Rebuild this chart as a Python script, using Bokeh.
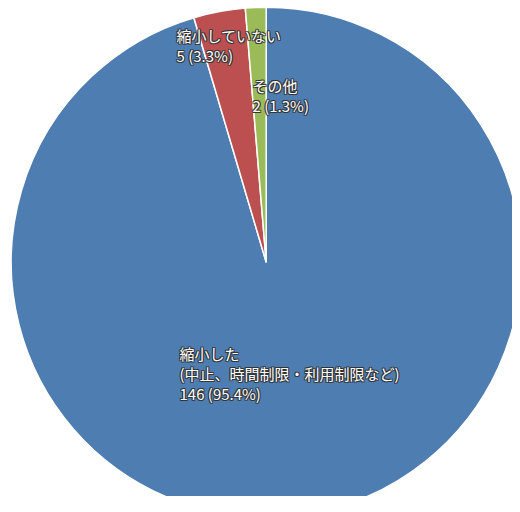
import math
from bokeh.plotting import figure
from bokeh.models import ColumnDataSource, Range1d
from bokeh.core.properties import value
from bokeh.embed import file_html
from bokeh.resources import INLINE

# ---- data ----
categories = ["縮小した\n(中止、時間制限・利用制限など)", "縮小していない", "その他"]
counts = [146, 5, 2]
colors = ["#4E7DB2", "#BC5050", "#9BBB59"]

# ---- layout ----
W, H = 512, 496
cx, cy, R = 265.7, H - 261.7, 255
label_anchor = [(179, H - 342), (176, H - 24), (252, H - 74)]  # top-left of each label
LINE = 20
FONT = "Noto Sans CJK JP"

total = sum(counts)
starts, ends = [], []
a = math.pi / 2
for c in counts:
    starts.append(a)
    a -= c / total * 2 * math.pi
    ends.append(a)

src = ColumnDataSource(dict(start=starts, end=ends, color=colors))

p = figure(width=W, height=H, output_backend="svg", toolbar_location=None,
           x_range=Range1d(0, W), y_range=Range1d(0, H), min_border=0)
p.axis.visible = False
p.grid.visible = False
p.outline_line_color = None
p.background_fill_color = "white"

p.wedge(x=cx, y=cy, radius=R, start_angle="start", end_angle="end", direction="clock",
        fill_color="color", line_color="white", line_width=1.5, source=src)

xs, ys, txt = [], [], []
for cat, cnt, (lx, ly) in zip(categories, counts, label_anchor):
    lines = cat.split("\n") + [f"{cnt} ({cnt / total * 100:.1f}%)"]
    for i, ln in enumerate(lines):
        xs.append(lx)
        ys.append(ly - i * LINE)
        txt.append(ln)

tsrc = ColumnDataSource(dict(x=xs, y=ys, text=txt))
common = dict(x="x", y="y", text="text", source=tsrc, text_font=value(FONT),
              text_font_size="15px", text_baseline="top", text_align="left")
for dx, dy in [(-1, -1), (-1, 0), (-1, 1), (0, -1), (0, 1), (1, -1), (1, 0), (1, 1)]:
    p.text(x_offset=dx, y_offset=dy, text_color="#333333", text_alpha=0.8, **common)
p.text(text_color="white", **common)

open("out.html", "w").write(file_html(p, INLINE))
